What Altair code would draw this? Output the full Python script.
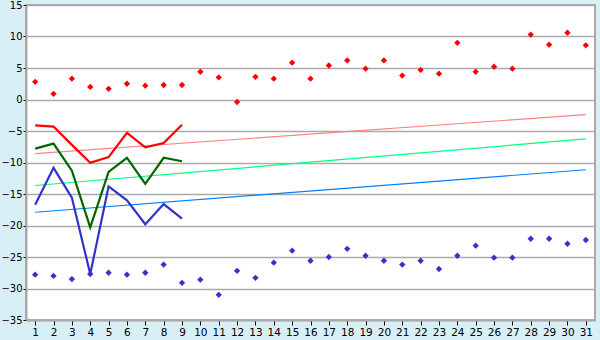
import altair as alt
import pandas as pd

days = list(range(1, 32))
red_pts = [2.8, 0.9, 3.3, 2.0, 1.7, 2.5, 2.2, 2.3, 2.3, 4.4, 3.5, -0.4, 3.6, 3.3, 5.85, 3.3,
           5.4, 6.2, 4.9, 6.2, 3.8, 4.7, 4.1, 9.0, 4.4, 5.2, 4.9, 10.3, 8.7, 10.6, 8.6]
blue_pts = [-27.8, -28.0, -28.5, -27.7, -27.5, -27.8, -27.5, -26.2, -29.1, -28.6, -31.0,
            -27.2, -28.3, -25.9, -24.0, -25.6, -25.0, -23.7, -24.8, -25.6, -26.2, -25.6,
            -26.9, -24.8, -23.2, -25.1, -25.1, -22.1, -22.1, -22.9, -22.3]
line_days = list(range(1, 10))
red_line = [-4.1, -4.3, -7.2, -10.05, -9.15, -5.3, -7.6, -6.9, -4.0]
green_line = [-7.8, -7.0, -11.3, -20.3, -11.5, -9.25, -13.4, -9.25, -9.8]
blue_line = [-16.7, -10.85, -15.6, -27.7, -13.8, -16.0, -19.8, -16.6, -18.9]
trend_days = [1, 31]
trend_pink = [-8.6, -2.4]
trend_green = [-13.65, -6.25]
trend_blue = [-17.9, -11.15]

xs = alt.Scale(domain=[0.5, 31.5], nice=False, zero=False)
ys = alt.Scale(domain=[-35, 15], nice=False, zero=False)

X = alt.X("d:Q", scale=xs, axis=alt.Axis(values=days, grid=False, title=None,
                                         labelFont="DejaVu Sans", labelFontSize=10.5,
                                         labelColor="#000000", tickColor="#000000",
                                         tickSize=5, domainColor="#aaaaaa", domainWidth=2,
                                         labelPadding=2, labelFlush=False, labelOverlap=False))
Y = alt.Y("v:Q", scale=ys, axis=alt.Axis(values=list(range(-35, 16, 5)), grid=True,
                                         gridColor="#aaaaaa", gridWidth=1.5, title=None,
                                         labelFont="DejaVu Sans", labelFontSize=10,
                                         labelColor="#000000", tickColor="#000000",
                                         tickSize=3, domainColor="#aaaaaa", domainWidth=2,
                                         labelPadding=1, labelFlush=False, labelOverlap=False))

layers = []
for vals, col in [(trend_pink, "#ff8080"), (trend_green, "#00ff80"), (trend_blue, "#0080ff")]:
    df = pd.DataFrame({"d": trend_days, "v": vals})
    layers.append(alt.Chart(df).mark_line(color=col, strokeWidth=1.2).encode(x=X, y=Y))
for vals, col in [(red_line, "#ff0000"), (green_line, "#006600"), (blue_line, "#3333cc")]:
    df = pd.DataFrame({"d": line_days, "v": vals})
    layers.append(alt.Chart(df).mark_line(color=col, strokeWidth=2.2).encode(x=X, y=Y))
for vals, col in [(red_pts, "#ff0000"), (blue_pts, "#3333cc")]:
    df = pd.DataFrame({"d": days, "v": vals})
    layers.append(alt.Chart(df).mark_point(shape="diamond", filled=True, size=40, color=col, opacity=1)
                  .encode(x=X, y=Y))

chart = alt.layer(*layers).properties(
    width=569, height=315,
    autosize=alt.AutoSizeParams(type="none"),
    padding={"left": 26, "top": 5, "right": 5, "bottom": 20},
    background="#d9eff6",
).configure_view(fill="#ffffff", stroke="#aaaaaa", strokeWidth=2)

chart.save("out.html", embed_options={"renderer": "svg", "actions": False})
